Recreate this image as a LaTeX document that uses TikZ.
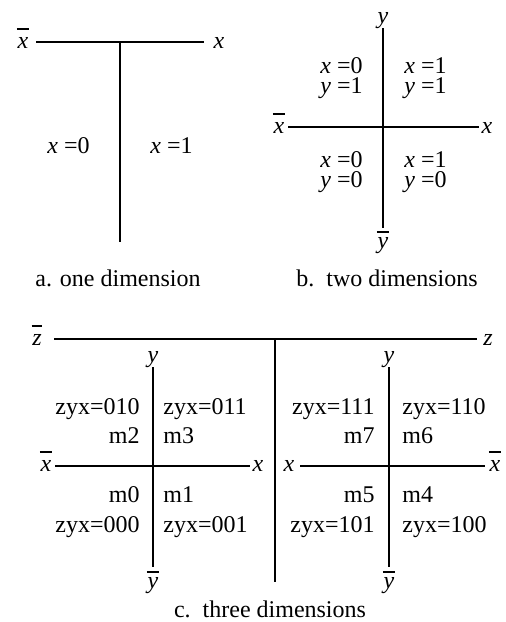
\documentclass[tikz,border=0pt]{standalone}
\usepackage{fontspec}
\setmainfont{Liberation Serif}
\newcommand{\nbar}[2][3.5pt]{\vbox{\hrule height 0.9pt\kern #1\hbox{\kern 0.4pt\itshape #2\kern 0.4pt}}}
\begin{document}
\begin{tikzpicture}[
            x=0.5pt, y=-0.5pt,
            every node/.style={inner sep=0pt, font=\fontsize{12}{14}\selectfont},
            axis/.style={line width=0.9pt},
            lbl/.style={anchor=base},
            lft/.style={anchor=base west},
            rgt/.style={anchor=base east},
            cell/.style={anchor=west, align=left, font=\fontsize{12}{10}\selectfont}
        ]
        \useasboundingbox (0,0) rectangle (506,622);

        % a. one dimension
        \coordinate (aW) at (36,42);
        \coordinate (aE) at (204,42);
        \coordinate (aT) at (120,42);
        \coordinate (aS) at (120,242);
        \draw[axis] (aW) -- (aE);
        \draw[axis] (aT) -- (aS);
        \node[lbl] (aXbar) at (23,48) {\nbar{x}};
        \node[lbl] (aX) at (219,48) {\textit{x}};
        \node[lft] (aX0) at (47,153) {\textit{x} =0};
        \node[lft] (aX1) at (150,153) {\textit{x} =1};
        \node[lbl] (aCap) at (118,286) {a. one dimension};

        % b. two dimensions
        \coordinate (bW) at (288,127);
        \coordinate (bE) at (479,127);
        \coordinate (bN) at (383,28);
        \coordinate (bS) at (383,228);
        \draw[axis] (bW) -- (bE);
        \draw[axis] (bN) -- (bS);
        \node[lbl] (bXbar) at (279,133) {\nbar{x}};
        \node[lbl] (bX) at (487,133) {\textit{x}};
        \node[lbl] (bY) at (383,23) {\textit{y}};
        \node[lbl] (bYbar) at (383,248) {\nbar[2pt]{y}};
        \node[cell] (b01) at (320,78) {\textit{x} =0\\\textit{y} =1};
        \node[cell] (b11) at (404,78) {\textit{x} =1\\\textit{y} =1};
        \node[cell] (b00) at (320,172) {\textit{x} =0\\\textit{y} =0};
        \node[cell] (b10) at (404,172) {\textit{x} =1\\\textit{y} =0};
        \node[lbl] (bCap) at (387,286) {b.\ \ two dimensions};

        % c. three dimensions
        \coordinate (cW) at (54,339);
        \coordinate (cE) at (477,339);
        \coordinate (cT) at (275,339);
        \coordinate (cS) at (275,582);
        \draw[axis] (cW) -- (cE);
        \draw[axis] (cT) -- (cS);
        \node[lbl] (cZbar) at (37,345) {\nbar{z}};
        \node[lbl] (cZ) at (488,345) {\textit{z}};

        % left half (z=0)
        \coordinate (lN) at (153,367);
        \coordinate (lS) at (153,567);
        \coordinate (lW) at (55,466);
        \coordinate (lE) at (250,466);
        \draw[axis] (lW) -- (lE);
        \draw[axis] (lN) -- (lS);
        \node[lbl] (lY) at (153,362) {\textit{y}};
        \node[lbl] (lYbar) at (153,588) {\nbar[2pt]{y}};
        \node[lbl] (lXbar) at (46,471) {\nbar{x}};
        \node[lbl] (lX) at (258,471) {\textit{x}};
        \node[rgt] (z010) at (140,414) {zyx=010};
        \node[rgt] (m2) at (140,443) {m2};
        \node[rgt] (m0) at (140,502) {m0};
        \node[rgt] (z000) at (140,532) {zyx=000};
        \node[lft] (z011) at (163,414) {zyx=011};
        \node[lft] (m3) at (163,443) {m3};
        \node[lft] (m1) at (163,502) {m1};
        \node[lft] (z001) at (163,532) {zyx=001};

        % right half (z=1)
        \coordinate (rN) at (389,367);
        \coordinate (rS) at (389,567);
        \coordinate (rW) at (300,466);
        \coordinate (rE) at (485,466);
        \draw[axis] (rW) -- (rE);
        \draw[axis] (rN) -- (rS);
        \node[lbl] (rY) at (389,362) {\textit{y}};
        \node[lbl] (rYbar) at (389,588) {\nbar[2pt]{y}};
        \node[lbl] (rX) at (289,471) {\textit{x}};
        \node[lbl] (rXbar) at (495,471) {\nbar{x}};
        \node[rgt] (z111) at (375,414) {zyx=111};
        \node[rgt] (m7) at (375,443) {m7};
        \node[rgt] (m5) at (375,502) {m5};
        \node[rgt] (z101) at (375,532) {zyx=101};
        \node[lft] (z110) at (402,414) {zyx=110};
        \node[lft] (m6) at (402,443) {m6};
        \node[lft] (m4) at (402,502) {m4};
        \node[lft] (z100) at (402,532) {zyx=100};

        \node[lbl] (cCap) at (270,617) {c.\ \ three dimensions};

    \end{tikzpicture}
\end{document}
